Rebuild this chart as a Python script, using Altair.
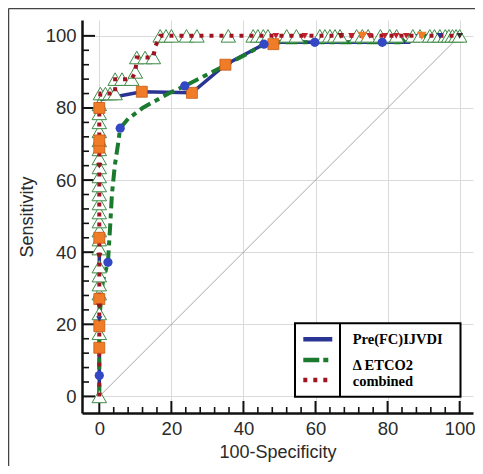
import altair as alt
import pandas as pd

# ---------------- data ----------------
series_names = ["Pre(FC)IJVDI", "\u0394 ETCO2", "combined"]

# Pre(FC)IJVDI curve (navy, solid) and its square markers
pre_x = [0, 0, 0, 0, 0, 0, 0, 0, 11.8, 25.7, 35.0, 45.7, 48.3, 50, 86, 88, 89.5, 100]
pre_y = [0, 13.5, 19.5, 27, 44, 70, 80, 82.3, 84.5, 84.2, 92.0, 97.7, 97.7, 98.2, 98.2, 100, 100, 100]
pre_mx = [0, 0, 0, 0, 0, 0, 0, 11.8, 25.7, 35.0, 48.3]
pre_my = [13.5, 19.5, 27, 44, 69, 71, 80, 84.5, 84.2, 92.0, 97.7]

# Delta ETCO2 curve (green, dash-dot) and its circle markers
etc_x = [0, 0, 0, 0.5, 1.0, 2.4, 3.0, 3.5, 4.3, 5.2, 5.8, 8, 12, 17, 20, 23.7, 30, 35.6, 41, 45.7, 50, 59.8, 78.5, 83.4, 86, 100]
etc_y = [0, 5.8, 21.5, 27, 32, 37.2, 47, 56, 64, 70, 74.4, 77, 80, 82.8, 84.4, 86.1, 89.3, 92.2, 95, 97.7, 98.2, 98.2, 98.2, 98.2, 100, 100]
etc_mx = [0, 2.4, 5.8, 23.7, 45.7, 59.8, 78.5]
etc_my = [5.8, 37.2, 74.4, 86.1, 97.7, 98.2, 98.2]

# combined curve (dark red, dotted) and its open-triangle markers
comb_x = [0] * 24 + [0.3, 1.7, 3.0, 4.4, 4.4, 6.3, 9.0, 10.0, 10.4, 12.7, 15.0, 15.5,
                     16.9, 18.5, 20, 24.2, 27.1, 35.8, 42.7, 44, 45.5, 46.8, 52, 54.7,
                     61.2, 62.6, 64, 65.4, 66.8, 71.4, 73, 74.6, 78, 80.6, 82.5, 87, 89,
                     91.7, 93, 94.5, 96, 97, 98, 99, 100]
comb_y = [0, 17.5, 23, 28.5, 31, 33.5, 36, 41, 43.5, 46, 48.5, 51, 53.5, 56, 58.5, 61,
          63.5, 66, 68.5, 71, 73.5, 76, 78.5, 81,
          84, 84, 84, 84, 88, 88, 88, 90, 94, 94, 94, 97,
          100, 100, 100, 100, 100, 100, 100, 100, 100, 100, 100, 100,
          100, 100, 100, 100, 100, 100, 100, 100, 100, 100, 100, 100, 100,
          100, 100, 100, 100, 100, 100, 100, 100]
comb_marker = [1] * 24 + [1, 1, 1, 1, 1, 1, 1, 1, 1, 1, 1, 0] + [1] * 33

# small extra point markers seen along the curves
oth_x = [0, 0, 0, 0, 49, 57, 67, 70, 73, 75, 79.2, 82.4, 85.2, 89.5, 94.5, 100]
oth_y = [21.5, 25, 39, 64, 100, 100, 100, 100, 100, 100, 100, 100, 100, 100, 100, 100]
oth_c = ["#2a3593", "#8b1a1a", "#8b1a1a", "#8b1a1a", "#c0202a", "#c0202a", "#8b1a1a",
         "#c0202a", "#f07c28", "#c0202a", "#c0202a", "#c0202a", "#c0202a", "#f07c28",
         "#2a3593", "#3a2a2a"]
oth_s = [40, 40, 40, 40, 45, 45, 45, 45, 90, 45, 45, 45, 45, 90, 45, 45]

diag = [0, 100]
major_ticks = [0, 20, 40, 60, 80, 100]
minor_ticks = [v for v in range(4, 100, 4) if v % 20 != 0]

# ---------------- styling / layout ----------------
W, H = 391, 393
NAVY, GREEN, RED = "#2a3593", "#1b7a2e", "#9e1420"
TXT = "#2a2a2a"

xs = alt.Scale(domain=[-4.8, 103.7], nice=False, zero=False)
ys = alt.Scale(domain=[-4.6, 104.4], nice=False, zero=False)

common = dict(values=major_ticks, format="d", grid=True, gridColor="#dadada", gridWidth=1,
              ticks=False, domain=True, domainColor="#111111", domainWidth=2.5,
              labelFont="Liberation Sans", labelFontSize=18.5, labelColor=TXT,
              labelPadding=6, labelFlush=False, labelOverlap=False,
              titleFont="Liberation Sans", titleFontSize=18, titleFontWeight="normal",
              titleColor=TXT)
xaxis = alt.Axis(title="100-Specificity", titlePadding=6, **common)
yaxis = alt.Axis(title="Sensitivity", titlePadding=9, **common)

X = alt.X("x:Q", scale=xs, axis=xaxis)
Y = alt.Y("y:Q", scale=ys, axis=yaxis)

one = pd.DataFrame({"k": [0]})

def df_xy(xv, yv, **extra):
    d = pd.DataFrame({"x": xv, "y": yv})
    d["i"] = range(len(d))
    for k, v in extra.items():
        d[k] = v
    return d

layers = []

# outer frame (top and left edges of the figure border)
layers.append(alt.Chart(one).mark_rule(color="#444444", strokeWidth=1.5).encode(
    x=alt.value(-73.5), x2=alt.value(W + 4), y=alt.value(-11.5)))
layers.append(alt.Chart(one).mark_rule(color="#444444", strokeWidth=1.5).encode(
    x=alt.value(-73.5), y=alt.value(-11.5), y2=alt.value(H + 60)))

# diagonal reference line
layers.append(alt.Chart(df_xy(diag, diag)).mark_line(color="#a8a8a8", strokeWidth=1).encode(
    x=X, y=Y, order="i:Q"))

# inward ticks
tx_major = pd.DataFrame({"x": major_ticks})
tx_minor = pd.DataFrame({"x": minor_ticks})
ty_major = pd.DataFrame({"y": major_ticks})
ty_minor = pd.DataFrame({"y": minor_ticks})
layers.append(alt.Chart(tx_major).mark_rule(color="#111111", strokeWidth=2).encode(
    x=X, y=alt.value(H - 12), y2=alt.value(H)))
layers.append(alt.Chart(tx_minor).mark_rule(color="#111111", strokeWidth=1.6).encode(
    x=X, y=alt.value(H - 6), y2=alt.value(H)))
layers.append(alt.Chart(ty_major).mark_rule(color="#111111", strokeWidth=2).encode(
    y=Y, x=alt.value(0), x2=alt.value(13)))
layers.append(alt.Chart(ty_minor).mark_rule(color="#111111", strokeWidth=1.6).encode(
    y=Y, x=alt.value(0), x2=alt.value(7)))

# curves
layers.append(alt.Chart(df_xy(pre_x, pre_y)).mark_line(color=NAVY, strokeWidth=3.5).encode(
    x=X, y=Y, order="i:Q"))
layers.append(alt.Chart(df_xy(etc_x, etc_y)).mark_line(
    color=GREEN, strokeWidth=4, strokeDash=[12, 5, 5, 5]).encode(x=X, y=Y, order="i:Q"))

comb = df_xy(comb_x, comb_y, m=comb_marker)
layers.append(alt.Chart(comb).transform_filter("datum.m == 1").mark_point(
    shape="triangle-up", filled=True, fill="white", stroke="#3d8a45", strokeWidth=1.0,
    size=210, opacity=1).encode(x=X, y=Y))
layers.append(alt.Chart(comb).mark_line(
    color=RED, strokeWidth=4, strokeDash=[4, 6]).encode(x=X, y=Y, order="i:Q"))

layers.append(alt.Chart(df_xy(pre_mx, pre_my)).mark_square(
    size=120, color="#f07c28", stroke="#c85a10", strokeWidth=0.8, opacity=1).encode(x=X, y=Y))
layers.append(alt.Chart(df_xy(etc_mx, etc_my)).mark_circle(
    size=85, color="#3447c4", opacity=1).encode(x=X, y=Y))
layers.append(alt.Chart(df_xy(oth_x, oth_y, c=oth_c, s=oth_s)).mark_point(
    shape="triangle-down", filled=True, opacity=1).encode(
    x=X, y=Y, color=alt.Color("c:N", scale=None), size=alt.Size("s:Q", scale=None)))

# legend box (drawn)
BX0, BX1, BY0, BY1, DIV = 213, 378.5, 303.3, 376.7, 258
layers.append(alt.Chart(one).mark_rect(fill="white", stroke="black", strokeWidth=2).encode(
    x=alt.value(BX0), x2=alt.value(BX1), y=alt.value(BY0), y2=alt.value(BY1)))
layers.append(alt.Chart(one).mark_rule(color="black", strokeWidth=2).encode(
    x=alt.value(DIV), y=alt.value(BY0), y2=alt.value(BY1)))
sym_rows = [319.3, 340, 360]
sym_styles = [(NAVY, 4.5, [1, 0]), (GREEN, 4.5, [16, 4, 5, 4]), (RED, 4.5, [4, 6])]
for yy, (col, sw, dash) in zip(sym_rows, sym_styles):
    layers.append(alt.Chart(one).mark_rule(color=col, strokeWidth=sw, strokeDash=dash).encode(
        x=alt.value(221.3), x2=alt.value(250.3), y=alt.value(yy)))
txt_rows = [320, 346, 361.7]
for yy, name in zip(txt_rows, series_names):
    layers.append(alt.Chart(one).mark_text(
        text=name, font="Liberation Serif", fontWeight="bold", fontSize=14.5,
        color="black", align="left", baseline="middle").encode(
        x=alt.value(270.7), y=alt.value(yy)))

chart = alt.layer(*layers).properties(
    width=W, height=H, autosize="none",
    padding={"left": 74, "top": 12, "right": 2, "bottom": 53},
).configure_view(stroke=None)

chart.save("out.html", embed_options={"renderer": "svg", "actions": False})
